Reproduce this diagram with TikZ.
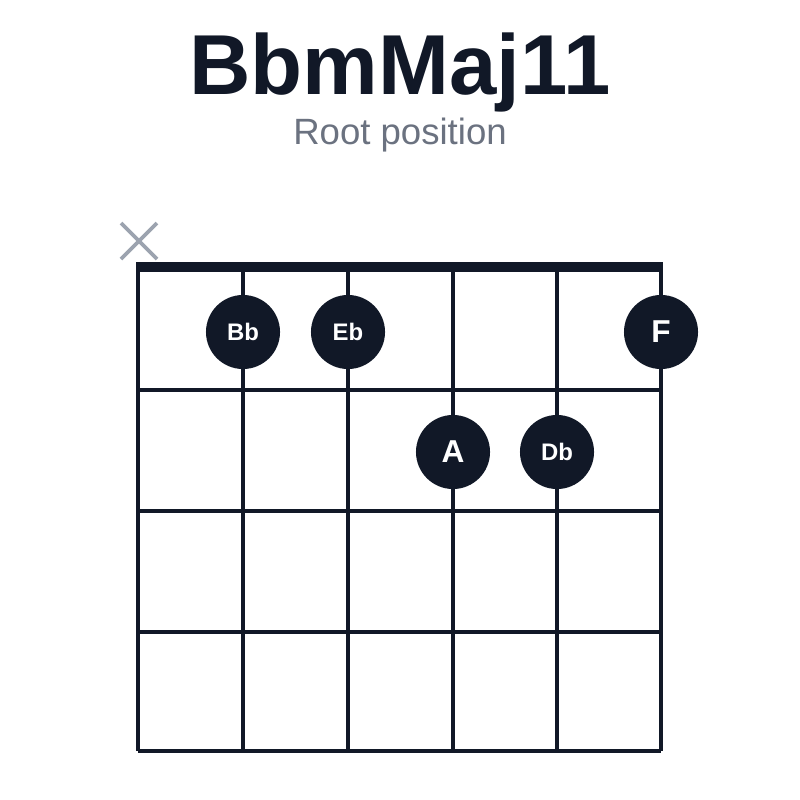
\documentclass[tikz,border=0pt]{standalone}
\usepackage{fontspec}
\setmainfont{Liberation Sans}
\definecolor{ink}{HTML}{111827}
\definecolor{sub}{HTML}{6B7280}
\definecolor{xg}{HTML}{9CA3AF}
\begin{document}
\begin{tikzpicture}[x=0.01cm,y=-0.01cm,
  grid/.style={draw=ink,line width=0.9pt},
  dot/.style={circle,fill=ink,minimum size=0.74cm,inner sep=0pt,text=white,font=\fontsize{6.8}{7}\selectfont\bfseries},
  big/.style={font=\fontsize{9}{9}\selectfont\bfseries}]
\useasboundingbox (0,0) rectangle (800,800);
\node (title) at (400,72) {\fontsize{24.2}{24}\selectfont\bfseries\color{ink}BbmMaj11};
\node (subtitle) at (400,135) {\fontsize{10.4}{10}\selectfont\color{sub}Root position};
\foreach \x in {138,243,348,453,557,661} \draw[grid] (\x,267) -- (\x,751);
\foreach \y in {390,511,632,751} \draw[grid] (138,\y) -- (661,\y);
\draw[ink,line width=2.8pt] (136,267) -- (663,267);
\draw[xg,line width=1.1pt] (121,223) -- (157,259) (157,223) -- (121,259);
\node[dot] (bb) at (243,332) {Bb};
\node[dot] (eb) at (348,332) {Eb};
\node[dot,big] (f) at (661,332) {F};
\node[dot,big] (a) at (453,452) {A};
\node[dot] (db) at (557,452) {Db};
\end{tikzpicture}
\end{document}
